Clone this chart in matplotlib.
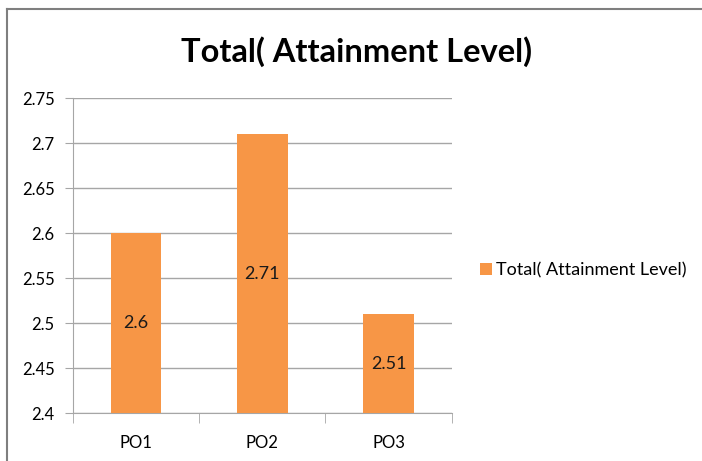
import matplotlib.pyplot as plt
from matplotlib.lines import Line2D

# data
categories = ["PO1", "PO2", "PO3"]
values = [2.6, 2.71, 2.51]
value_labels = ["2.6", "2.71", "2.51"]
y_ticks = [2.4, 2.45, 2.5, 2.55, 2.6, 2.65, 2.7, 2.75]
y_tick_labels = ["2.4", "2.45", "2.5", "2.55", "2.6", "2.65", "2.7", "2.75"]
series_name = "Total( Attainment Level)"

plt.rcParams['font.family'] = ['Lato', 'DejaVu Sans']

fig = plt.figure(figsize=(7.02, 4.61), dpi=100)
ax = fig.add_axes([0.1036, 0.1041, 0.540, 0.6827])

bar_color = "#F79646"
grid_color = "#A6A6A6"

x = range(len(categories))
bars = ax.bar(x, values, width=0.40, color=bar_color, label=series_name, zorder=3)

for b, lab in zip(bars, value_labels):
    ax.text(b.get_x() + b.get_width() / 2, (2.4 + b.get_height()) / 2, lab,
            ha="center", va="center", fontsize=13, color="#1a1a1a", zorder=4)

ax.set_ylim(2.4, 2.75)
ax.set_xlim(-0.5, 2.5)
ax.set_yticks(y_ticks)
ax.set_yticklabels(y_tick_labels)
ax.set_xticks(list(x))
ax.set_xticklabels(categories)

# category boundary ticks
ax.set_xticks([-0.5, 0.5, 1.5, 2.5], minor=True)
ax.tick_params(axis="x", which="major", length=0, pad=16, labelsize=12)
ax.tick_params(axis="x", which="minor", length=7, color=grid_color, direction="out")
ax.tick_params(axis="y", length=6, color=grid_color, labelsize=12, pad=7)

ax.yaxis.grid(True, color=grid_color, linewidth=1, zorder=0)
ax.set_axisbelow(True)
for s in ["top", "right"]:
    ax.spines[s].set_visible(False)
for s in ["left", "bottom"]:
    ax.spines[s].set_color(grid_color)

fig.text(0.508, 0.887, "Total( Attainment Level)", ha="center", va="center",
         fontsize=23.5, fontweight="bold", color="black")

ax.legend(loc="center left", bbox_to_anchor=(1.075, 0.454), frameon=False,
          fontsize=13, handlelength=0.65, handleheight=0.65, handletextpad=0.25,
          borderaxespad=0, borderpad=0)

# outer chart border
fig.add_artist(Line2D([0.01, 0.01], [0.0, 0.98], color="#7f7f7f", linewidth=1.5,
                      transform=fig.transFigure))
fig.add_artist(Line2D([0.01, 1.0], [0.98, 0.98], color="#7f7f7f", linewidth=1.5,
                      transform=fig.transFigure))

fig.savefig("out.png", dpi=100)
